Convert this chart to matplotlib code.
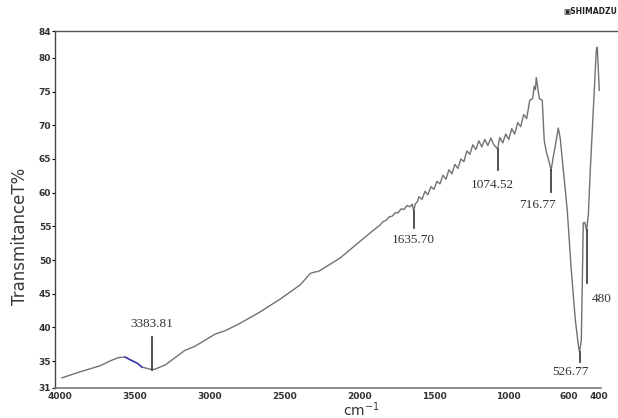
import numpy as np
import matplotlib.pyplot as plt
from matplotlib.lines import Line2D

# FTIR spectrum (wavenumber cm-1, transmittance %)
wavenumber = [3987, 3866, 3732, 3666, 3612, 3565, 3532, 3485, 3452, 3398,
              3383.8, 3365, 3298, 3231, 3164, 3097, 3030, 2963, 2896, 2796,
              2662, 2528, 2395, 2350, 2328, 2300, 2274, 2250, 2127, 1993, 1906,
              1860, 1840, 1820, 1800, 1780, 1760, 1740, 1720, 1700, 1680,
              1660, 1645, 1635.7, 1625, 1610,
              1600, 1580, 1560, 1540, 1520, 1500, 1480, 1460, 1440, 1420,
              1400, 1380, 1360, 1340, 1320, 1300, 1280, 1260, 1240, 1220,
              1200, 1180, 1160, 1140, 1120, 1100, 1074.5, 1060, 1040, 1020,
              1000, 980, 960, 940, 920, 900, 880, 860, 840, 830, 822, 816,
              796, 776, 763, 749, 736, 716.8, 702, 682, 669, 656, 635, 609,
              582, 555, 535, 526.8, 515, 508, 502, 492, 480, 468, 455, 435,
              415, 408, 401, 395]
transmittance = [32.5, 33.4, 34.3, 35.0, 35.5, 35.6, 35.2, 34.7, 34.1, 33.8,
                 33.7, 33.8, 34.4, 35.5, 36.6, 37.2, 38.1, 39.0, 39.5, 40.6,
                 42.3, 44.2, 46.3, 47.4, 48.0, 48.2, 48.3, 48.6, 50.3, 52.8, 54.4,
                 55.2, 55.7, 55.9, 56.4, 56.5, 57.0, 57.0, 57.6, 57.5, 58.1,
                 57.9, 58.3, 57.3, 58.3, 58.7,
                 59.4, 59.0, 60.2, 59.7, 60.9, 60.5, 61.7, 61.3, 62.6, 62.0,
                 63.4, 62.8, 64.2, 63.6, 65.0, 64.6, 66.2, 65.7, 67.1, 66.4,
                 67.7, 66.8, 67.9, 67.0, 68.1, 67.1, 66.5, 68.2, 67.4, 68.7,
                 67.9, 69.5, 68.7, 70.4, 69.8, 71.6, 71.0, 73.7, 74.0, 75.8, 75.3, 77.1,
                 74.0, 73.7, 67.8, 66.0, 65.1, 63.3, 65.4, 67.8, 69.6, 68.1, 63.3, 57.4,
                 48.5, 41.1, 37.4, 36.3, 38.1, 47.0, 55.5, 55.6, 54.4, 56.7, 63.3, 72.2,
                 81.1, 81.6, 78.2, 75.2]

# blue stretch of the trace around the OH shoulder
blue_wn = [3565, 3532, 3485, 3452]
blue_t = [35.6, 35.2, 34.7, 34.1]

# peak labels: position, tick ends, label centre
peak_labels = ['3383.81', '1635.70', '1074.52', '716.77', '526.77', '480']
peak_wn = [3383.8, 1635.7, 1074.5, 716.8, 526.8, 480]
tick_from = [33.7, 57.3, 66.5, 63.3, 36.3, 54.4]
tick_to = [38.6, 54.7, 63.3, 60.1, 34.9, 46.6]
label_wn = [3383.8, 1635.7, 1110, 809, 589, 381]
label_t = [40.5, 53.0, 61.1, 58.2, 33.4, 44.2]

x_ticks = [4000, 3500, 3000, 2500, 2000, 1500, 1000, 600, 400]
y_ticks = [31, 35, 40, 45, 50, 55, 60, 65, 70, 75, 80, 84]

fig = plt.figure(figsize=(6.18, 4.18), dpi=100)
ax = fig.add_axes([0.0898, 0.0718, 0.8835, 0.854])

ax.plot(wavenumber, transmittance, color='#717171', lw=1.0)
ax.plot(blue_wn, blue_t, color='#3a3ab8', lw=1.1)

serif = ['Liberation Serif', 'DejaVu Serif']
for lab, wn, t0, t1, lx, ly in zip(peak_labels, peak_wn, tick_from, tick_to,
                                   label_wn, label_t):
    ax.plot([wn, wn], [t0, t1], color='#333333', lw=1.2)
    ax.text(lx, ly, lab, family=serif, fontsize=9.5, color='#333333',
            ha='center', va='center')

ax.set_xlim(4030, 380)
ax.set_ylim(31, 84)
ax.set_xticks(x_ticks)
ax.set_yticks(y_ticks)
ax.tick_params(axis='both', labelsize=6.5, labelcolor='#333333', length=2,
               width=0.8, pad=1)
ax.tick_params(axis='x', length=0, pad=3)
for lbl in ax.get_xticklabels() + ax.get_yticklabels():
    lbl.set_fontweight('bold')

ax.spines['right'].set_visible(False)
ax.spines['top'].set_visible(False)
ax.spines['left'].set_color('#444444')
ax.spines['bottom'].set_color('#777777')
ax.spines['left'].set_linewidth(1.0)
ax.spines['bottom'].set_linewidth(1.2)

# frame line on top runs across to the right edge
fig.add_artist(Line2D([0.0898, 1.0], [0.9258, 0.9258], color='#555555',
                      lw=1.0, transform=fig.transFigure))

fig.text(0.032, 0.435, 'TransmitanceT%', rotation=90, fontsize=12,
         color='#3a3a3a', ha='center', va='center')
fig.text(0.585, 0.02, 'cm$^{-1}$', fontsize=10, color='#333333',
         ha='center', va='center')
fig.text(0.912, 0.972, '\u25a3SHIMADZU', fontsize=5.5, fontweight='bold',
         color='#222222', ha='left', va='center')

fig.savefig('out.png', dpi=100)
